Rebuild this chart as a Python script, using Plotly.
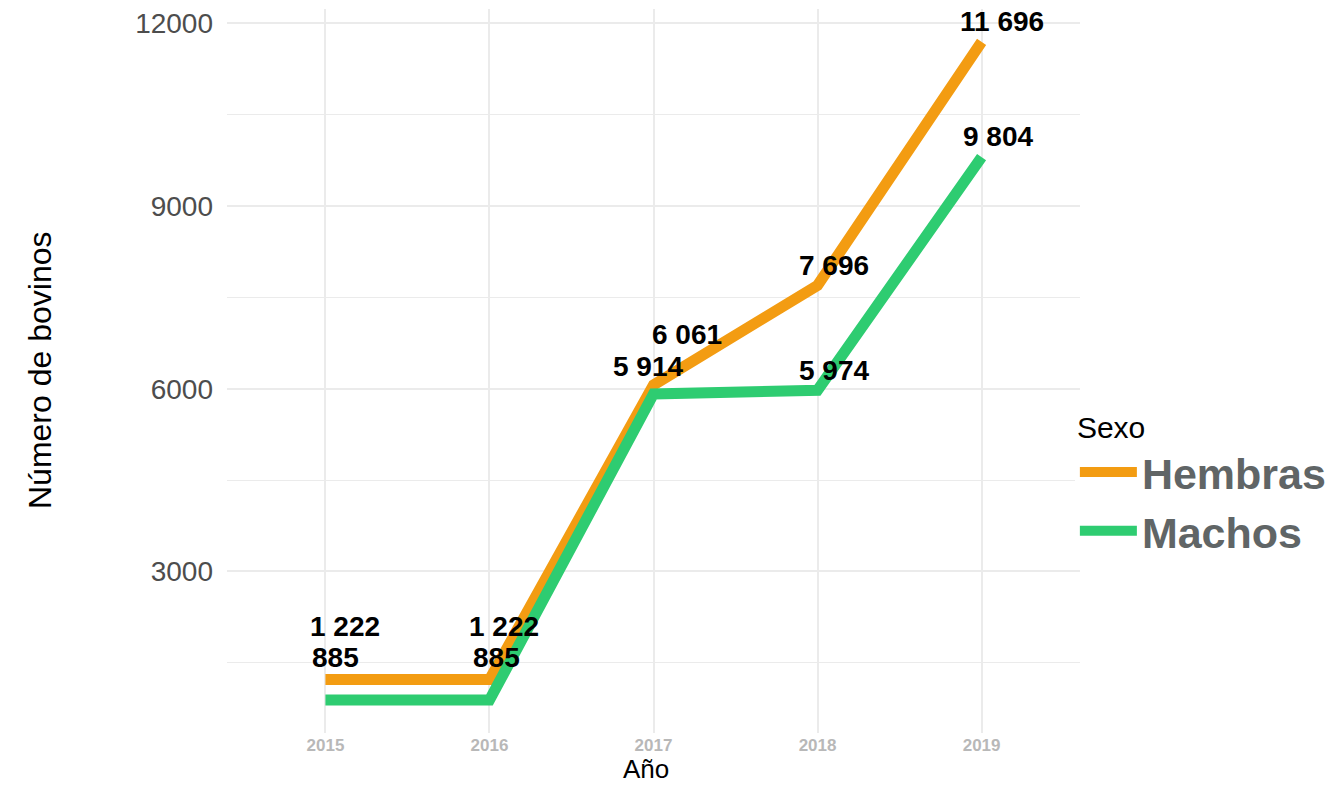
import plotly.graph_objects as go

years = [2015, 2016, 2017, 2018, 2019]
hembras = [1222, 1222, 6061, 7696, 11696]
machos = [885, 885, 5914, 5974, 9804]
series_names = ["Hembras", "Machos"]
series_colors = ["#F39C12", "#2ECC71"]
y_ticks = [3000, 6000, 9000, 12000]
y_minor = [1500, 4500, 7500, 10500]

# label pixel offsets (repel-like placement)
h_offsets = [(20, 53), (15, 53), (33, 50), (16, 20), (20, 20)]
m_offsets = [(10, 43), (7, 43), (-6, 27), (16, 20), (16, 21)]

FONT = "Liberation Sans, Arial, sans-serif"


def fmt(v):
    return f"{v:,}".replace(",", " ")


fig = go.Figure()
for name, vals, col in zip(series_names, [hembras, machos], series_colors):
    fig.add_trace(go.Scatter(x=years, y=vals, mode="lines", name=name,
                             line=dict(color=col, width=11)))

ann = []
for vals, offs in [(hembras, h_offsets), (machos, m_offsets)]:
    for x, v, (dx, dy) in zip(years, vals, offs):
        ann.append(dict(x=x, y=v, text=fmt(v), showarrow=False,
                        xshift=dx, yshift=dy,
                        font=dict(family=FONT, size=28, color="black", weight="bold")))

# axis titles
ann.append(dict(xref="paper", yref="paper", x=0, y=0.5, xshift=-187, xanchor="center",
                yanchor="middle", text="Número de bovinos", textangle=-90, showarrow=False,
                font=dict(family=FONT, size=32, color="black")))
ann.append(dict(xref="paper", yref="paper", x=0.5, y=0, xshift=-8, yshift=-53,
                xanchor="center", yanchor="bottom", text="Año", showarrow=False,
                font=dict(family=FONT, size=26, color="black")))

allv = hembras + machos
lo, hi = min(allv), max(allv)
pad = (hi - lo) * 0.05

fig.update_layout(
    width=1344, height=786,
    paper_bgcolor="white", plot_bgcolor="white",
    margin=dict(l=227, r=264, t=9, b=53),
    annotations=ann,
    font=dict(family=FONT),
    legend=dict(
        title=dict(text="Sexo", font=dict(size=30, color="black", family=FONT, weight="normal")),
        font=dict(size=43, color="#606566", family=FONT, weight="bold"),
        x=0.994, xanchor="left", y=0.462, yanchor="top",
        itemwidth=57, tracegroupgap=0,
    ),
    xaxis=dict(
        range=[2014.4, 2019.6], tickvals=years, ticktext=[str(y) for y in years],
        showgrid=True, gridcolor="#ebebeb", gridwidth=2, zeroline=False,
        showline=False, ticks="",
        tickfont=dict(family=FONT, size=17, color="#b8b8b8", weight="bold"),
    ),
    yaxis=dict(
        range=[lo - pad, hi + pad], tickvals=y_ticks, ticktext=[str(t) for t in y_ticks],
        showgrid=True, gridcolor="#ebebeb", gridwidth=2, zeroline=False,
        showline=False, ticks="", ticklabelstandoff=13,
        tickfont=dict(family=FONT, size=28, color="#4d4d4d"),
        minor=dict(tickvals=y_minor, showgrid=True, gridcolor="#ebebeb", gridwidth=1),
    ),
)

fig.write_html("out.html", config={"displayModeBar": False},
               post_script="document.body.style.margin='0';")
